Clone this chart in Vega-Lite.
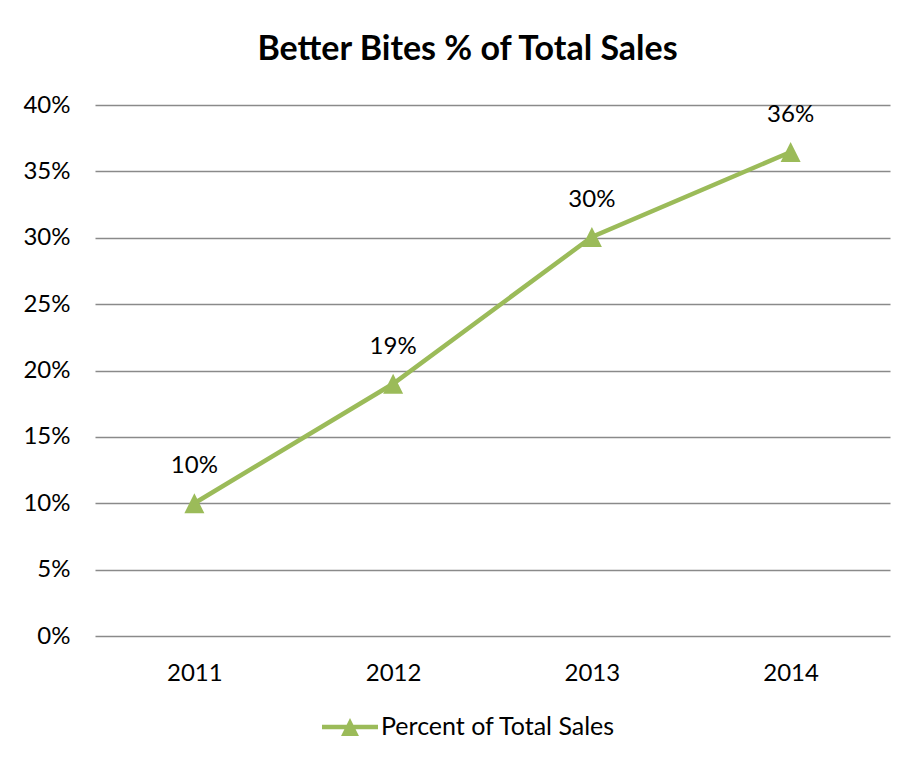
{
  "$schema": "https://vega.github.io/schema/vega-lite/v6.json",
  "width": 795,
  "height": 531,
  "autosize": {"type": "none"},
  "padding": {"left": 95, "top": 105, "right": 20, "bottom": 127},
  "background": "white",
  "config": {"view": {"stroke": null}},
  "title": {
    "text": "Better Bites % of Total Sales",
    "font": "Lato",
    "fontSize": 34,
    "fontWeight": "bold",
    "color": "black",
    "anchor": "middle",
    "baseline": "alphabetic",
    "offset": -1,
    "dx": -25
  },
  "data": {
    "values": [
      {"year": "2011", "pct": 0.1},
      {"year": "2012", "pct": 0.19},
      {"year": "2013", "pct": 0.3006},
      {"year": "2014", "pct": 0.3646}
    ]
  },
  "encoding": {
    "x": {
      "field": "year",
      "type": "ordinal",
      "scale": {"type": "point", "padding": 0.5},
      "axis": {
        "title": null,
        "labelAngle": 0,
        "domain": false,
        "ticks": false,
        "grid": false,
        "labelFont": "Lato",
        "labelFontSize": 24,
        "labelColor": "black",
        "labelPadding": 25
      }
    },
    "y": {
      "field": "pct",
      "type": "quantitative",
      "scale": {"domain": [0, 0.4], "nice": false},
      "axis": {
        "title": null,
        "format": ".0%",
        "values": [0, 0.05, 0.1, 0.15, 0.2, 0.25, 0.3, 0.35, 0.4],
        "domain": false,
        "ticks": false,
        "grid": true,
        "gridColor": "#8a8a8a",
        "gridWidth": 1.3,
        "labelFont": "Lato",
        "labelFontSize": 24,
        "labelColor": "black",
        "labelPadding": 25
      }
    }
  },
  "layer": [
    {
      "mark": {"type": "line", "strokeWidth": 4.5},
      "encoding": {
        "color": {
          "datum": "Percent of Total Sales",
          "type": "nominal",
          "scale": {"range": ["#9BBB59"]},
          "legend": {
            "title": null,
            "orient": "none",
            "legendX": 227,
            "legendY": 594,
            "symbolType": "M-1,-0.08L1,-0.08L1,0.08L-1,0.08Z M0,-0.32L0.32,0.32L-0.32,0.32Z",
            "symbolSize": 3136,
            "symbolFillColor": "#9BBB59",
            "symbolStrokeWidth": 0,
            "symbolOpacity": 1,
            "labelFont": "Lato",
            "labelFontSize": 25,
            "labelColor": "black",
            "labelOffset": 3,
            "labelLimit": 0
          }
        }
      }
    },
    {
      "mark": {
        "type": "point",
        "shape": "M0,-1L1,1L-1,1Z",
        "size": 400,
        "filled": true,
        "opacity": 1,
        "color": "#9BBB59"
      }
    },
    {
      "mark": {
        "type": "text",
        "dy": -37,
        "font": "Lato",
        "fontSize": 24,
        "color": "black"
      },
      "encoding": {
        "text": {"field": "pct", "type": "quantitative", "format": ".0%"}
      }
    }
  ]
}
